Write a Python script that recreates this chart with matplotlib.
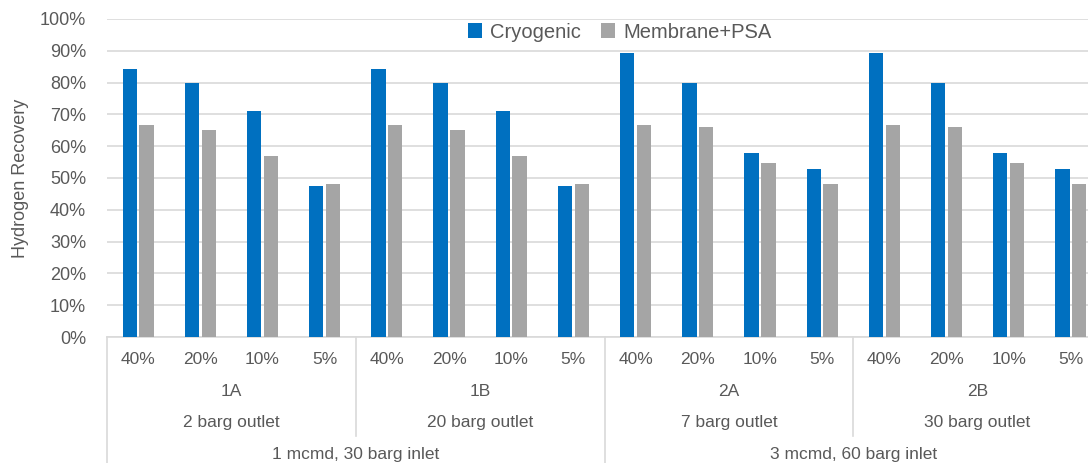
import matplotlib.pyplot as plt
import numpy as np

plt.rcParams['font.family'] = ['Liberation Sans', 'DejaVu Sans']

pressures = ['40%', '20%', '10%', '5%']
cases = ['1A', '1B', '2A', '2B']
outlets = ['2 barg outlet', '20 barg outlet', '7 barg outlet', '30 barg outlet']
inlets = ['1 mcmd, 30 barg inlet', '3 mcmd, 60 barg inlet']

cryogenic = [84.3, 80.0, 71.0, 47.5,
             84.3, 80.0, 71.0, 47.5,
             89.2, 80.0, 58.0, 52.8,
             89.2, 80.0, 58.0, 52.8]
membrane_psa = [66.7, 65.2, 57.0, 48.1,
                66.7, 65.2, 57.0, 48.1,
                66.7, 66.0, 54.6, 48.1,
                66.7, 66.0, 54.6, 48.1]

txt = '#595959'
W, H = 1088, 463
fig = plt.figure(figsize=(W / 100, H / 100), dpi=100)
# axes box in pixels: left 107, right ~1102 (cut off), top 19, bottom 337
ax = fig.add_axes([107 / W, (H - 337) / H, (1102 - 107) / W, (337 - 19) / H])

n = len(cryogenic)
x = np.arange(n) + 0.5
ax.bar(x - 0.135, cryogenic, 0.23, color='#0070C0', label='Cryogenic', zorder=3)
ax.bar(x + 0.135, membrane_psa, 0.23, color='#A5A5A5', label='Membrane+PSA', zorder=3)

ax.set_xlim(0, n)
ax.set_ylim(0, 100)
ax.set_yticks(np.arange(0, 101, 10))
ax.set_yticklabels([f'{v}%' for v in range(0, 101, 10)], color=txt, fontsize=13)
ax.tick_params(axis='y', length=0, pad=15)
ax.set_xticks([])
ax.grid(axis='y', color='#d9d9d9', linewidth=1.2, zorder=0)
for s in ['top', 'right', 'left']:
    ax.spines[s].set_visible(False)
ax.spines['bottom'].set_color('#d9d9d9')
ax.spines['bottom'].set_linewidth(1.2)
ax.set_ylabel('Hydrogen Recovery', color=txt, fontsize=13, labelpad=8)

tr = ax.get_xaxis_transform()


def ypos(py):
    # pixel row -> axes fraction
    return (337 - py) / 318


for i in range(n):
    ax.text(i + 0.5, ypos(359), pressures[i % 4], transform=tr, ha='center',
            va='center', color=txt, fontsize=12.5, clip_on=False)
for j in range(4):
    ax.text(4 * j + 2, ypos(391), cases[j], transform=tr, ha='center',
            va='center', color=txt, fontsize=12.5, clip_on=False)
    ax.text(4 * j + 2, ypos(423), outlets[j], transform=tr, ha='center',
            va='center', color=txt, fontsize=12.5, clip_on=False)
for k in range(2):
    ax.text(8 * k + 4, ypos(455), inlets[k], transform=tr, ha='center',
            va='center', color=txt, fontsize=12.5, clip_on=False)

# separators between label groups
for xs in [0, 8, 16]:
    ax.plot([xs, xs], [0, ypos(470)], transform=tr, color='#d9d9d9',
            linewidth=1.2, clip_on=False)
for xs in [4, 12]:
    ax.plot([xs, xs], [0, ypos(436)], transform=tr, color='#d9d9d9',
            linewidth=1.2, clip_on=False)

fig.legend(loc='center', bbox_to_anchor=(620 / W, 1 - 32 / H), ncol=2,
           frameon=False, fontsize=14.5, labelcolor=txt, handlelength=0.7,
           handleheight=0.7, columnspacing=1.0, handletextpad=0.4)

fig.savefig('out.png', dpi=100)
